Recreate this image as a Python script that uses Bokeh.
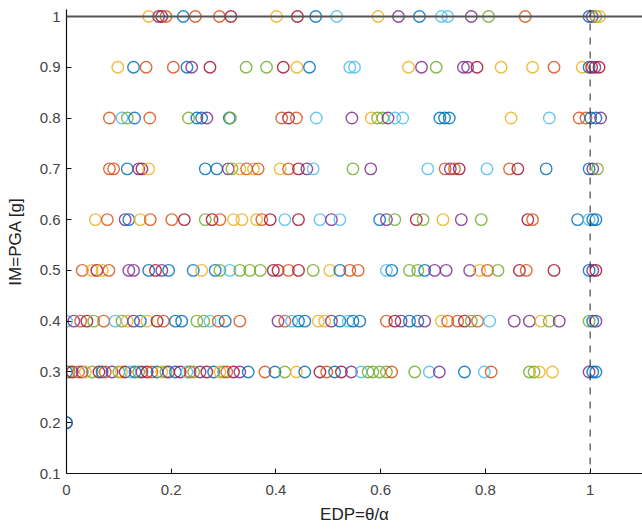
from bokeh.plotting import figure
from bokeh.models import ColumnDataSource, Range1d, FixedTicker, Span
from bokeh.embed import file_html
from bokeh.resources import INLINE

# MATLAB default colour order
palette = ["#0072BD", "#D95319", "#EDB120", "#7E2F8E", "#77AC30", "#4DBEEE", "#A2142F"]

y_levels = [1.0, 0.9, 0.8, 0.7, 0.6, 0.5, 0.4, 0.3, 0.2]

x_y10 = [0.157, 0.176, 0.182, 0.190, 0.223, 0.246, 0.292, 0.314, 0.401, 0.441, 0.476, 0.516,
         0.595, 0.634, 0.674, 0.716, 0.728, 0.773, 0.806, 0.876, 0.998, 1.004, 1.011, 1.018]
c_y10 = [2, 3, 6, 1, 0, 1, 1, 6, 2, 6, 0, 5, 2, 3, 0, 5, 5, 3, 4, 1, 0, 3, 4, 2]

x_y09 = [0.098, 0.128, 0.152, 0.204, 0.230, 0.239, 0.274, 0.343, 0.382, 0.414, 0.440, 0.464,
         0.541, 0.550, 0.653, 0.678, 0.706, 0.758, 0.766, 0.784, 0.830, 0.890, 0.931, 0.985,
         0.998, 1.003, 1.009, 1.017]
c_y09 = [2, 0, 1, 1, 0, 3, 6, 4, 4, 6, 2, 0, 5, 5, 2, 3, 4, 3, 3, 6, 2, 2, 1, 2, 0, 6, 3, 6]

x_y08 = [0.082, 0.106, 0.116, 0.130, 0.159, 0.233, 0.249, 0.258, 0.268, 0.311, 0.313, 0.411,
         0.424, 0.439, 0.477, 0.545, 0.582, 0.594, 0.604, 0.614, 0.627, 0.642, 0.713, 0.722,
         0.731, 0.849, 0.922, 0.979, 0.992, 1.001, 1.011, 1.020]
c_y08 = [1, 5, 4, 0, 1, 4, 0, 0, 3, 0, 4, 1, 6, 1, 5, 3, 2, 4, 4, 3, 5, 5, 0, 0, 0, 2, 5, 1,
         1, 0, 0, 3]

x_y07 = [0.082, 0.090, 0.116, 0.138, 0.144, 0.157, 0.265, 0.287, 0.309, 0.316, 0.331, 0.344,
         0.357, 0.366, 0.408, 0.424, 0.443, 0.459, 0.471, 0.547, 0.581, 0.690, 0.723, 0.733,
         0.741, 0.750, 0.803, 0.846, 0.862, 0.916, 0.998, 1.005, 1.014]
c_y07 = [1, 1, 0, 3, 6, 2, 0, 0, 3, 4, 2, 1, 2, 1, 2, 1, 6, 3, 5, 4, 3, 5, 1, 3, 1, 6, 5, 1,
         6, 0, 0, 3, 4]

x_y06 = [0.055, 0.078, 0.112, 0.119, 0.141, 0.160, 0.201, 0.225, 0.265, 0.278, 0.293, 0.319,
         0.335, 0.363, 0.373, 0.389, 0.417, 0.443, 0.484, 0.506, 0.522, 0.598, 0.611, 0.627,
         0.668, 0.681, 0.719, 0.754, 0.792, 0.881, 0.890, 0.976, 0.998, 1.005, 1.011]
c_y06 = [2, 1, 3, 0, 2, 1, 1, 6, 4, 6, 1, 2, 2, 2, 1, 6, 5, 6, 5, 3, 5, 0, 3, 4, 6, 4, 2, 3,
         4, 6, 1, 0, 5, 0, 0]

x_y05 = [0.030, 0.049, 0.058, 0.068, 0.081, 0.119, 0.128, 0.157, 0.170, 0.182, 0.195, 0.242,
         0.258, 0.284, 0.293, 0.312, 0.331, 0.350, 0.370, 0.395, 0.404, 0.424, 0.443, 0.471,
         0.503, 0.522, 0.541, 0.557, 0.611, 0.621, 0.655, 0.671, 0.684, 0.703, 0.725, 0.770,
         0.789, 0.804, 0.824, 0.865, 0.878, 0.931, 0.998, 1.005, 1.011]
c_y05 = [1, 2, 6, 2, 1, 3, 3, 0, 6, 3, 0, 0, 2, 0, 4, 5, 4, 4, 4, 6, 6, 1, 6, 4, 2, 0, 1, 1,
         5, 0, 4, 4, 0, 3, 3, 3, 2, 1, 4, 6, 1, 6, 0, 3, 6]

x_y04 = [0.0, 0.014, 0.027, 0.039, 0.052, 0.071, 0.093, 0.106, 0.116, 0.128, 0.141, 0.154,
         0.173, 0.185, 0.208, 0.220, 0.249, 0.262, 0.274, 0.290, 0.303, 0.331, 0.404, 0.417,
         0.430, 0.443, 0.455, 0.481, 0.493, 0.506, 0.522, 0.538, 0.547, 0.560, 0.611, 0.627,
         0.639, 0.655, 0.671, 0.684, 0.716, 0.728, 0.747, 0.760, 0.773, 0.785, 0.808, 0.855,
         0.884, 0.906, 0.922, 0.941, 0.998, 1.005, 1.011]
c_y04 = [5, 3, 1, 6, 4, 1, 5, 4, 2, 3, 0, 2, 6, 1, 0, 0, 4, 4, 5, 1, 0, 1, 3, 1, 5, 0, 0, 2,
         2, 3, 0, 5, 0, 0, 1, 6, 3, 0, 0, 3, 2, 1, 1, 6, 4, 1, 5, 3, 3, 2, 4, 3, 4, 0, 3]

x_y03 = [0.0, 0.005, 0.011, 0.023, 0.030, 0.036, 0.049, 0.062, 0.068, 0.074, 0.087, 0.100,
         0.105, 0.112, 0.122, 0.131, 0.138, 0.144, 0.154, 0.163, 0.173, 0.182, 0.190, 0.195,
         0.208, 0.217, 0.230, 0.236, 0.243, 0.255, 0.268, 0.281, 0.293, 0.300, 0.306, 0.319,
         0.331, 0.347, 0.379, 0.398, 0.417, 0.439, 0.455, 0.484, 0.497, 0.512, 0.525, 0.544,
         0.563, 0.576, 0.585, 0.598, 0.611, 0.621, 0.665, 0.693, 0.712, 0.760, 0.798, 0.811,
         0.884, 0.893, 0.903, 0.928, 0.998, 1.005, 1.011]
c_y03 = [0, 4, 6, 1, 3, 2, 4, 6, 0, 1, 3, 4, 2, 6, 5, 0, 4, 3, 6, 1, 0, 2, 4, 3, 0, 6, 5, 1,
         4, 3, 6, 0, 2, 4, 1, 6, 3, 0,
         1, 0, 4, 2, 0, 6, 1, 0, 6, 3, 5, 4, 4, 4, 4, 1, 4, 5, 3, 0, 5, 1, 4, 4, 2, 2, 3, 0, 0]

x_y02 = [0.0, 0.0]
c_y02 = [3, 0]

x_rows = [x_y10, x_y09, x_y08, x_y07, x_y06, x_y05, x_y04, x_y03, x_y02]
c_rows = [c_y10, c_y09, c_y08, c_y07, c_y06, c_y05, c_y04, c_y03, c_y02]

xs, ys, cols = [], [], []
for yl, xr, cr in zip(y_levels, x_rows, c_rows):
    for i, xv in enumerate(xr):
        ci = cr[i] if i < len(cr) else i % 7
        xs.append(xv)
        ys.append(yl)
        cols.append(palette[ci])

src = ColumnDataSource(dict(x=xs, y=ys, color=cols))

x_ticks = [0, 0.2, 0.4, 0.6, 0.8, 1]
x_labels = ["0", "0.2", "0.4", "0.6", "0.8", "1"]
y_ticks = [0.1, 0.2, 0.3, 0.4, 0.5, 0.6, 0.7, 0.8, 0.9, 1]
y_labels = ["0.1", "0.2", "0.3", "0.4", "0.5", "0.6", "0.7", "0.8", "0.9", "1"]

p = figure(width=642, height=531, output_backend="svg", toolbar_location=None,
           x_range=Range1d(0, 1.1), y_range=Range1d(0.1, 1.0138),
           min_border_left=66, min_border_right=0, min_border_top=9, min_border_bottom=58)
p.outline_line_color = None
p.xgrid.visible = False
p.ygrid.visible = False
p.background_fill_color = "white"
p.border_fill_color = "white"

p.scatter("x", "y", source=src, marker="circle", size=11.5, fill_color=None,
          line_color="color", line_width=1.4, line_alpha=0.85)

p.add_layout(Span(location=1.0, dimension="width", line_color="#555555", line_width=2))
p.add_layout(Span(location=1.0, dimension="height", line_color="#222222", line_width=1,
                  line_dash="7 7"))

for ax, ticks, labels in ((p.xaxis[0], x_ticks, x_labels), (p.yaxis[0], y_ticks, y_labels)):
    ax.ticker = FixedTicker(ticks=ticks)
    ax.major_label_overrides = {t: l for t, l in zip(ticks, labels)}
    ax.minor_tick_line_color = None
    ax.major_tick_in = 5
    ax.major_tick_out = 0
    ax.axis_line_color = "#111111"
    ax.axis_line_width = 1.2
    ax.major_tick_line_color = "#111111"
    ax.major_label_text_font = "Liberation Sans"
    ax.major_label_text_font_size = "15px"
    ax.major_label_text_color = "#444444"
    ax.axis_label_text_font = "Liberation Sans"
    ax.axis_label_text_font_size = "17px"
    ax.axis_label_text_font_style = "normal"
    ax.axis_label_text_color = "#222222"

p.xaxis.axis_label = "EDP=θ/α"
p.yaxis.axis_label = "IM=PGA [g]"
p.xaxis.major_label_standoff = 11
p.xaxis.axis_label_standoff = 7
p.yaxis.major_label_standoff = 6
p.yaxis.axis_label_standoff = 12

open("out.html", "w").write(file_html(p, INLINE))
